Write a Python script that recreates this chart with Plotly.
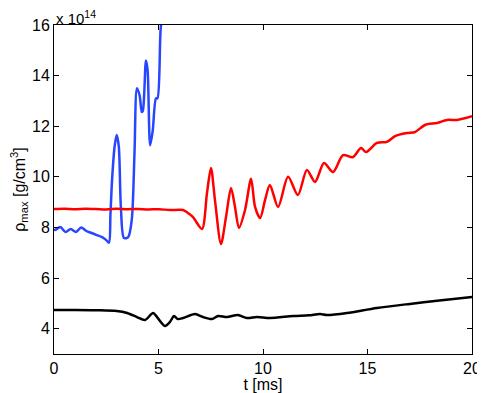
import plotly.graph_objects as go

# Blue series
t_blue = [0.0, 0.05, 0.3, 0.55, 0.8, 1.05, 1.3, 1.55, 1.8, 2.05, 2.3, 2.5, 2.63, 2.7, 2.78, 2.9, 3.0, 3.1, 3.2, 3.35, 3.55, 3.72, 3.85, 3.97, 4.1, 4.2, 4.25, 4.4, 4.48, 4.6, 4.72, 4.88, 4.95, 5.1, 5.25]
v_blue = [7.95, 7.9, 8.02, 7.82, 7.94, 7.82, 8.0, 7.86, 7.78, 7.7, 7.62, 7.5, 7.4, 8.5, 9.9, 11.2, 11.65, 11.2, 8.8, 7.58, 7.62, 8.3, 10.9, 13.5, 13.2, 12.56, 12.6, 14.6, 14.2, 11.25, 11.8, 13.1, 13.1, 15.8, 17.0]

# Red series
t_red = [0.0, 0.5, 1.0, 1.5, 2.0, 2.5, 3.0, 3.5, 4.0, 4.5, 5.0, 5.55, 6.17, 6.36, 6.65, 7.08, 7.32, 7.51, 7.7, 7.99, 8.23, 8.47, 8.66, 8.85, 9.14, 9.43, 9.62, 9.86, 10.1, 10.33, 10.72, 11.2, 11.67, 12.1, 12.49, 12.92, 13.35, 13.83, 14.3, 14.69, 14.93, 15.45, 15.93, 16.32, 16.89, 17.27, 17.75, 18.33, 18.8, 19.28, 20.0]
v_red = [8.73, 8.74, 8.72, 8.74, 8.73, 8.71, 8.74, 8.72, 8.73, 8.71, 8.72, 8.69, 8.69, 8.6, 8.41, 7.94, 9.36, 10.35, 9.09, 7.35, 8.41, 9.56, 8.81, 7.98, 8.69, 9.92, 8.81, 8.37, 9.09, 9.68, 8.81, 10.0, 9.28, 10.27, 9.8, 10.55, 10.19, 10.86, 10.78, 11.14, 10.98, 11.34, 11.38, 11.61, 11.73, 11.77, 12.05, 12.13, 12.25, 12.25, 12.4]

# Black series
t_black = [0.0, 1.0, 2.0, 3.0, 3.5, 3.97, 4.35, 4.74, 4.93, 5.31, 5.55, 5.74, 5.93, 6.17, 6.75, 7.13, 7.56, 7.85, 8.28, 8.8, 9.23, 9.71, 10.33, 11.44, 12.2, 12.73, 13.06, 14.02, 15.45, 17.03, 18.33, 20.0]
v_black = [4.74, 4.74, 4.73, 4.7, 4.62, 4.46, 4.34, 4.62, 4.46, 4.11, 4.27, 4.5, 4.38, 4.42, 4.58, 4.46, 4.38, 4.5, 4.46, 4.54, 4.42, 4.46, 4.42, 4.5, 4.53, 4.58, 4.54, 4.62, 4.82, 4.98, 5.1, 5.25]

x_ticks = [0, 5, 10, 15, 20]
y_ticks = [4, 6, 8, 10, 12, 14, 16]

fig = go.Figure()
for t, v, c in [(t_blue, v_blue, "rgb(40,70,255)"), (t_red, v_red, "rgb(255,0,0)"), (t_black, v_black, "black")]:
    fig.add_trace(go.Scatter(x=t, y=v, mode="lines",
                             line=dict(color=c, width=2.5, shape="spline", smoothing=0.8)))

font = dict(family="Liberation Sans, Arial, sans-serif", size=16, color="black")
fig.update_layout(
    width=477, height=385,
    margin=dict(l=46, r=13, t=17, b=39),
    paper_bgcolor="white", plot_bgcolor="white",
    showlegend=False,
    font=font,
    xaxis=dict(range=[0, 20], tickvals=x_ticks, ticks="inside", ticklen=5, tickcolor="black",
               showline=True, linecolor="black", linewidth=1, mirror="ticks", showgrid=False,
               zeroline=False, automargin=False,
               title=dict(text="t [ms]", standoff=2, font=font)),
    yaxis=dict(range=[3, 16], tickvals=y_ticks, ticks="inside", ticklen=5, tickcolor="black",
               showline=True, linecolor="black", linewidth=1, mirror="ticks", showgrid=False,
               zeroline=False, automargin=False,
               title=dict(text="ρ<sub>max</sub> [g/cm<sup>3</sup>]", standoff=10, font=font)),
    annotations=[dict(text="x 10<sup>14</sup>", xref="paper", yref="paper", x=0, y=1,
                      xanchor="left", yanchor="bottom", showarrow=False,
                      font=dict(family="Liberation Sans, Arial, sans-serif", size=15, color="black"),
                      yshift=-4)],
)
fig.write_html("out.html")
